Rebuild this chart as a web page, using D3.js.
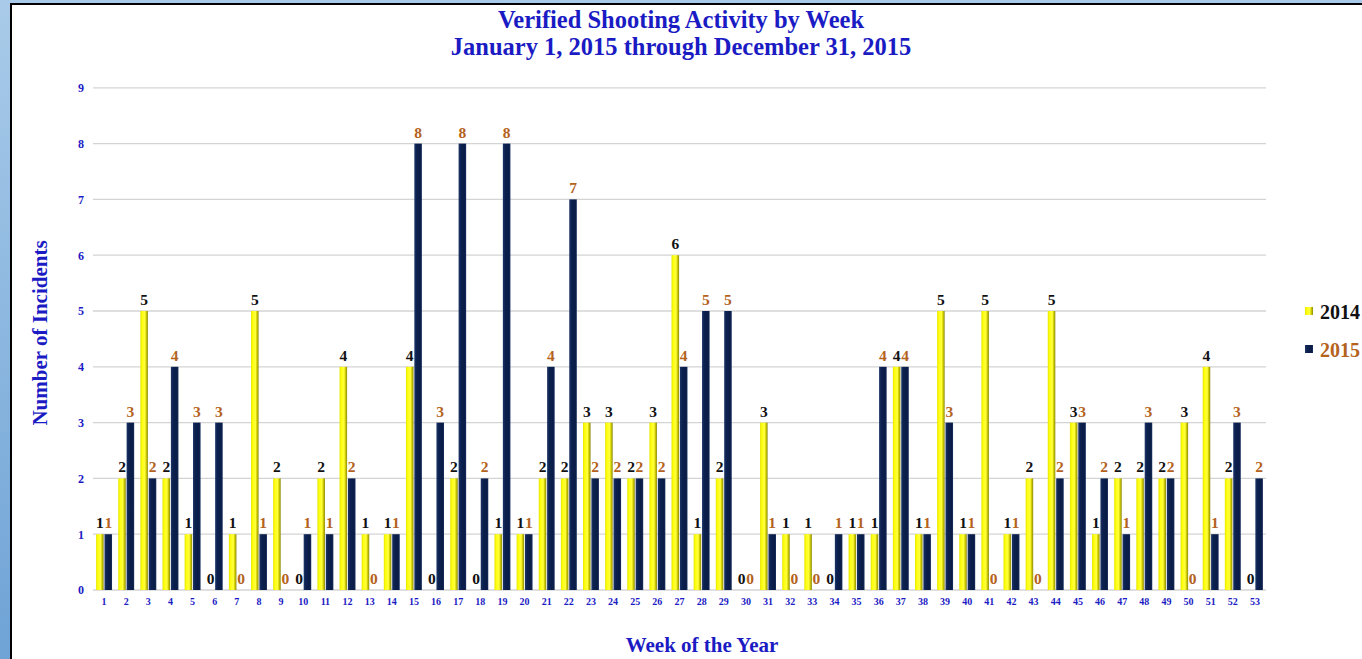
<!DOCTYPE html>
<html><head><meta charset="utf-8">
<script src="https://cdn.jsdelivr.net/npm/d3@7/dist/d3.min.js"></script>
<style>body{margin:0;overflow:hidden;background:#fff}</style>
</head><body>
<svg id="c" width="1362" height="659"></svg>
<script>
const weeks = d3.range(1, 54).map(String);
const series = ["2014", "2015"];
const values2014 = [1,2,5,2,1,0,1,5,2,0,2,4,1,1,4,0,2,0,1,1,2,2,3,3,2,3,6,1,2,0,3,1,1,0,1,1,4,1,5,1,5,1,2,5,3,1,2,2,2,3,4,2,0];
const values2015 = [1,3,2,4,3,3,0,1,0,1,1,2,0,1,8,3,8,2,8,1,4,7,2,2,2,2,4,5,5,0,1,0,0,1,1,4,4,1,3,1,0,1,0,2,3,2,1,3,2,0,1,3,2];
const yTicks = [0,1,2,3,4,5,6,7,8,9];
const titleLines = ["Verified Shooting Activity by Week", "January 1, 2015 through December 31, 2015"];
const yTitle = "Number of Incidents";
const xTitle = "Week of the Year";

const svg = d3.select("#c");
const W = 1362, H = 659;
const font = "'Liberation Serif','Times New Roman',serif";
const blue = "#1b1bc4";
const lblColor = {"2014": "#111", "2015": "#b4621c"};

const defs = svg.append("defs");
const bg = defs.append("linearGradient").attr("id","bgG").attr("x1",0).attr("x2",0).attr("y1",0).attr("y2",1);
bg.append("stop").attr("offset",0).attr("stop-color","#a9cbe9");
bg.append("stop").attr("offset",1).attr("stop-color","#6fa3d6");
svg.append("rect").attr("width",W).attr("height",H).attr("fill","url(#bgG)");
svg.append("rect").attr("x",10).attr("y",3).attr("width",W-10).attr("height",H-3).attr("fill","#000");
svg.append("rect").attr("x",12).attr("y",5).attr("width",W-12).attr("height",H-5).attr("fill","#fff");

const gy = defs.append("linearGradient").attr("id","yG");
gy.append("stop").attr("offset",0).attr("stop-color","#e6e600");
gy.append("stop").attr("offset",0.25).attr("stop-color","#ffff10");
gy.append("stop").attr("offset",0.6).attr("stop-color","#ffff40");
gy.append("stop").attr("offset",0.75).attr("stop-color","#d8d400");
gy.append("stop").attr("offset",1).attr("stop-color","#8c8a10");
const gn = defs.append("linearGradient").attr("id","nG");
gn.append("stop").attr("offset",0).attr("stop-color","#1c3566");
gn.append("stop").attr("offset",0.3).attr("stop-color","#0c2150");
gn.append("stop").attr("offset",0.8).attr("stop-color","#0a1c46");
gn.append("stop").attr("offset",1).attr("stop-color","#183060");
const fills = {"2014":"url(#yG)","2015":"url(#nG)"};

const x = d3.scaleBand().domain(weeks).range([93, 1266]).paddingInner(0.28).paddingOuter(0.14);
const xs = d3.scaleBand().domain(series).range([0, x.bandwidth()]).paddingInner(0.1);
const y = d3.scaleLinear().domain([0, 9]).range([590, 87.8]);

svg.append("g").selectAll("line").data(yTicks).join("line")
  .attr("x1", 93).attr("x2", 1266)
  .attr("y1", d => y(d)).attr("y2", d => y(d))
  .attr("stroke", "#d4d4d4").attr("stroke-width", 1.3);

const yAxis = svg.append("g").attr("transform","translate(84,0)")
  .call(d3.axisLeft(y).tickValues(yTicks).tickSize(0).tickPadding(0));
yAxis.select(".domain").remove();
yAxis.selectAll("text").attr("font-family",font).attr("font-weight","bold").attr("font-size",12).attr("fill",blue);

const xAxis = svg.append("g").attr("transform","translate(0,598)")
  .call(d3.axisBottom(x).tickSize(0).tickPadding(0));
xAxis.select(".domain").remove();
xAxis.selectAll("text").attr("font-family",font).attr("font-weight","bold").attr("font-size",10).attr("fill",blue);

const data = weeks.map((w,i) => ({week:w, vals:[{s:"2014",v:values2014[i]},{s:"2015",v:values2015[i]}]}));

const grp = svg.append("g").selectAll("g").data(data).join("g")
  .attr("transform", d => `translate(${x(d.week)},0)`);
grp.selectAll("rect").data(d => d.vals).join("rect")
  .attr("x", d => xs(d.s)).attr("width", xs.bandwidth())
  .attr("y", d => y(d.v)).attr("height", d => y(0) - y(d.v))
  .attr("fill", d => fills[d.s]);
grp.selectAll("text").data(d => d.vals).join("text")
  .attr("x", d => xs(d.s) + xs.bandwidth()/2)
  .attr("y", d => y(d.v) - 6)
  .attr("text-anchor","middle")
  .attr("font-family",font).attr("font-weight","bold").attr("font-size",15.5)
  .attr("fill", d => lblColor[d.s])
  .text(d => d.v);

svg.append("g").selectAll("text").data(titleLines).join("text")
  .attr("x", 681).attr("y", (d,i) => 28 + i*27)
  .attr("text-anchor","middle")
  .attr("font-family",font).attr("font-weight","bold").attr("font-size",24.5)
  .attr("fill", blue).text(d => d);

svg.append("text").attr("transform","translate(47,333) rotate(-90)")
  .attr("text-anchor","middle").attr("font-family",font).attr("font-weight","bold")
  .attr("font-size",21).attr("fill",blue).text(yTitle);
svg.append("text").attr("x",702).attr("y",652)
  .attr("text-anchor","middle").attr("font-family",font).attr("font-weight","bold")
  .attr("font-size",21).attr("fill",blue).text(xTitle);

const leg = svg.append("g").selectAll("g").data(series).join("g")
  .attr("transform",(d,i)=>`translate(1305,${312 + i*38})`);
leg.append("rect").attr("x",0).attr("y",-5).attr("width",8).attr("height",8)
  .attr("fill",d=>fills[d]);
leg.append("text").attr("x",15).attr("y",7)
  .attr("font-family",font).attr("font-weight","bold").attr("font-size",20)
  .attr("fill",d=>lblColor[d]).text(d=>d);
</script>
</body></html>
